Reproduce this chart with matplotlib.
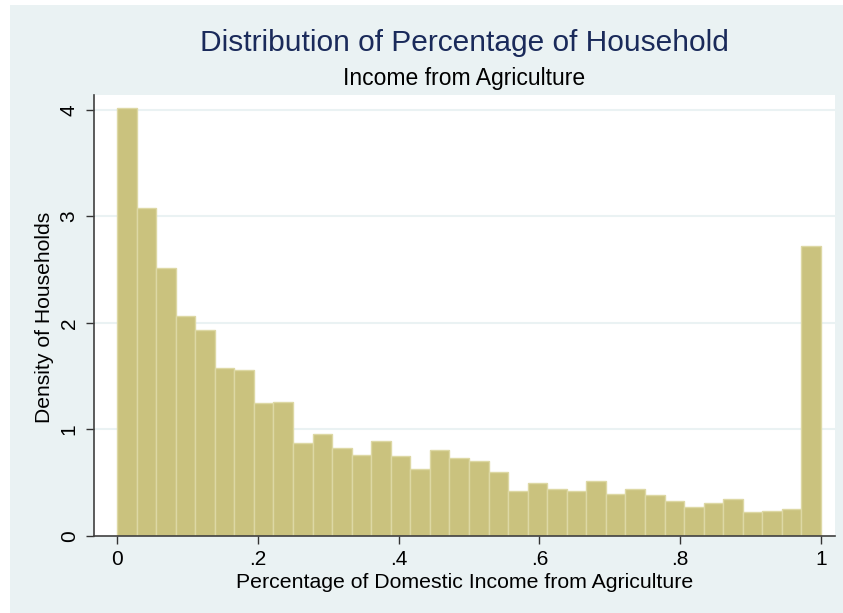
import numpy as np
import matplotlib.pyplot as plt
from matplotlib.patches import Rectangle

plt.rcParams['font.family'] = ['Liberation Sans Narrow', 'Liberation Sans', 'DejaVu Sans']

# histogram: 36 equal bins on [0, 1], density
n_bins = 36
density = [4.016, 3.078, 2.512, 2.062, 1.937, 1.575, 1.556, 1.250, 1.259,
           0.869, 0.956, 0.822, 0.762, 0.891, 0.753, 0.628, 0.812, 0.734,
           0.700, 0.605, 0.426, 0.502, 0.445, 0.426, 0.520, 0.392, 0.445,
           0.386, 0.326, 0.276, 0.307, 0.351, 0.223, 0.232, 0.251, 2.720]
xticks = [0, 0.2, 0.4, 0.6, 0.8, 1.0]
xticklabels = ['0', '.2', '.4', '.6', '.8', '1']
yticks = [0, 1, 2, 3, 4]

bg = '#EAF2F3'
fill = '#CAC27E'
edge = '#DDD8A4'

fig = plt.figure(figsize=(8.43, 6.13), dpi=100, facecolor='white')
# stata graph region (leaves thin white strip top/left like the export)
fig.patches.append(Rectangle((10/843, 0), 1, 1 - 5/613, transform=fig.transFigure,
                             facecolor=bg, edgecolor='none', zorder=-10))

ax = fig.add_axes([94/843, 1 - 536/613, (834.7 - 94)/843, (536 - 95)/613])
ax.set_facecolor('white')

edges = np.linspace(0, 1, n_bins + 1)
ax.bar(edges[:-1], density, width=1/n_bins, align='edge',
       color=fill, edgecolor=edge, linewidth=1.0, zorder=2)

ax.set_xlim(-0.0327, 1.0195)
ax.set_ylim(0, 4.14)

ax.set_yticks(yticks)
ax.set_yticklabels([str(t) for t in yticks], rotation=90, va='center')
ax.set_xticks(xticks)
ax.set_xticklabels(xticklabels)
ax.tick_params(axis='both', direction='out', length=6, width=1, colors='#333333',
               labelcolor='black', labelsize=15)
ax.tick_params(axis='y', pad=5)
ax.tick_params(axis='x', pad=4)

for y in yticks[1:]:
    ax.axhline(y, color=bg, linewidth=1.5, zorder=1)

for s in ['top', 'right']:
    ax.spines[s].set_visible(False)
for s in ['left', 'bottom']:
    ax.spines[s].set_color('#404040')
    ax.spines[s].set_linewidth(1.2)

ax.set_xlabel('Percentage of Domestic Income from Agriculture', fontsize=15.3, va='baseline')
ax.set_ylabel('Density of Households', fontsize=15.2, va='baseline')
ax.xaxis.set_label_coords(0.5, -(588.3 - 536) / 441)
ax.yaxis.set_label_coords((50 - 94) / 740.7, 0.495)

cx = (94 + 834.7) / 2 / 843
fig.text(cx, 1 - 43/613, 'Distribution of Percentage of Household',
         ha='center', va='center', fontsize=21.5, color='#1A2A5A')
fig.text(cx, 1 - 78/613, 'Income from Agriculture',
         ha='center', va='center', fontsize=16.5, color='black')

fig.savefig('out.png', dpi=100, facecolor='white')
